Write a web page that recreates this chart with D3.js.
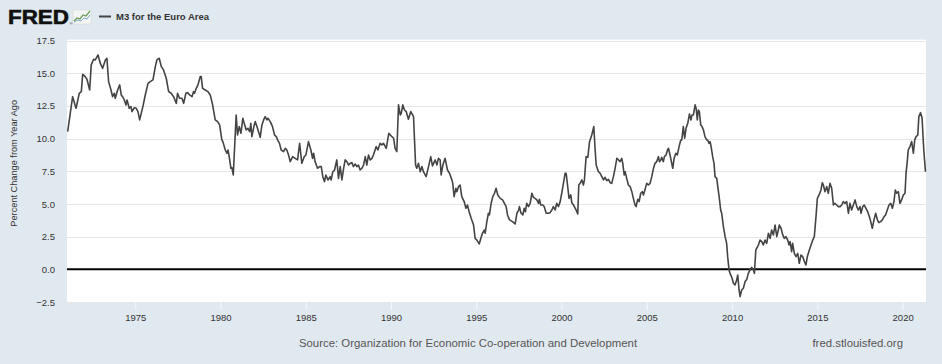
<!DOCTYPE html>
<html><head><meta charset="utf-8">
<script src="https://cdn.jsdelivr.net/npm/d3@7"></script>
<style>
html,body{margin:0;padding:0;background:#e1e9f0;}
svg{display:block;font-family:"Liberation Sans",Arial,sans-serif;}
</style></head><body>
<svg id="chart" width="942" height="364"></svg>
<script>
// ---- data (decimal year, percent change from year ago) ----
const years = [
1971.04,1971.33,1971.53,1971.72,1971.84,1971.92,1972.07,1972.17,1972.33,1972.42,1972.56,1972.66,1972.82,1972.95,
1973.09,1973.25,1973.34,1973.44,1973.58,1973.67,1973.77,1973.83,1973.97,1974.09,1974.18,1974.26,1974.36,1974.46,
1974.52,1974.65,1974.75,1974.81,1974.95,1975.06,1975.16,1975.26,1975.45,1975.59,1975.75,1975.88,1976.04,1976.18,
1976.27,1976.41,1976.53,1976.66,1976.82,1976.96,1977.11,1977.25,1977.41,1977.48,1977.60,1977.74,1977.84,1977.97,
1978.07,1978.19,1978.33,1978.42,1978.48,1978.58,1978.68,1978.81,1978.87,1978.95,1979.11,1979.26,1979.40,1979.54,
1979.69,1979.83,1979.95,1980.08,1980.14,1980.28,1980.38,1980.44,1980.51,1980.61,1980.67,1980.75,1980.92,1981.00,
1981.10,1981.20,1981.31,1981.39,1981.51,1981.61,1981.71,1981.78,1981.84,1981.98,1982.04,1982.17,1982.33,1982.43,
1982.53,1982.62,1982.72,1982.78,1982.92,1983.05,1983.17,1983.27,1983.35,1983.46,1983.56,1983.70,1983.80,1983.89,
1983.99,1984.09,1984.23,1984.38,1984.52,1984.64,1984.77,1984.91,1985.01,1985.16,1985.30,1985.40,1985.46,1985.55,
1985.69,1985.81,1985.91,1986.00,1986.10,1986.18,1986.30,1986.43,1986.49,1986.59,1986.69,1986.82,1986.92,1987.02,
1987.12,1987.22,1987.31,1987.41,1987.51,1987.61,1987.70,1987.80,1987.90,1988.00,1988.09,1988.19,1988.29,1988.39,
1988.49,1988.58,1988.68,1988.78,1988.88,1988.97,1989.13,1989.23,1989.36,1989.46,1989.56,1989.72,1989.87,1990.05,
1990.15,1990.24,1990.34,1990.44,1990.54,1990.60,1990.69,1990.79,1990.89,1991.02,1991.16,1991.32,1991.44,1991.51,
1991.61,1991.71,1991.81,1991.90,1992.06,1992.20,1992.33,1992.43,1992.59,1992.69,1992.78,1992.88,1992.94,1993.04,
1993.17,1993.31,1993.43,1993.57,1993.62,1993.70,1993.80,1993.86,1993.96,1994.05,1994.15,1994.29,1994.39,1994.48,
1994.58,1994.70,1994.84,1994.93,1995.03,1995.09,1995.17,1995.27,1995.36,1995.48,1995.52,1995.62,1995.71,1995.77,
1995.87,1995.97,1996.07,1996.16,1996.26,1996.40,1996.54,1996.65,1996.75,1996.83,1996.95,1997.12,1997.28,1997.38,
1997.47,1997.53,1997.61,1997.73,1997.81,1997.88,1997.96,1998.06,1998.16,1998.26,1998.35,1998.45,1998.55,1998.65,
1998.70,1998.78,1998.90,1998.98,1999.10,1999.23,1999.33,1999.43,1999.52,1999.62,1999.72,1999.82,1999.92,2000.01,
2000.11,2000.21,2000.27,2000.36,2000.44,2000.54,2000.60,2000.70,2000.85,2000.95,2001.01,2001.09,2001.19,2001.28,
2001.34,2001.44,2001.54,2001.64,2001.77,2001.89,2001.97,2002.03,2002.16,2002.26,2002.36,2002.46,2002.55,2002.65,
2002.75,2002.85,2002.94,2003.04,2003.14,2003.24,2003.34,2003.43,2003.53,2003.59,2003.67,2003.73,2003.82,2003.92,
2004.02,2004.12,2004.21,2004.31,2004.37,2004.47,2004.55,2004.64,2004.74,2004.80,2004.90,2004.99,2005.09,2005.19,
2005.29,2005.39,2005.48,2005.58,2005.68,2005.74,2005.82,2005.87,2005.97,2006.03,2006.13,2006.21,2006.27,2006.36,
2006.46,2006.52,2006.60,2006.70,2006.79,2006.89,2006.99,2007.05,2007.14,2007.22,2007.30,2007.40,2007.50,2007.59,
2007.65,2007.73,2007.83,2007.89,2007.96,2008.02,2008.08,2008.16,2008.24,2008.32,2008.41,2008.51,2008.57,2008.65,
2008.71,2008.77,2008.86,2008.94,2009.00,2009.10,2009.16,2009.24,2009.33,2009.39,2009.49,2009.59,2009.68,2009.74,
2009.82,2009.88,2009.98,2010.08,2010.17,2010.27,2010.33,2010.41,2010.47,2010.56,2010.66,2010.76,2010.86,2010.95,
2011.05,2011.15,2011.25,2011.31,2011.39,2011.44,2011.54,2011.64,2011.74,2011.83,2011.93,2012.03,2012.13,2012.23,
2012.32,2012.42,2012.52,2012.62,2012.71,2012.77,2012.87,2012.97,2013.06,2013.16,2013.26,2013.34,2013.40,2013.49,
2013.55,2013.65,2013.75,2013.85,2013.94,2014.04,2014.14,2014.24,2014.33,2014.41,2014.53,2014.63,2014.73,2014.82,
2014.92,2015.00,2015.10,2015.21,2015.29,2015.35,2015.45,2015.55,2015.64,2015.74,2015.84,2015.94,2016.03,2016.13,
2016.23,2016.33,2016.43,2016.52,2016.62,2016.72,2016.82,2016.91,2017.01,2017.11,2017.21,2017.31,2017.40,2017.50,
2017.56,2017.66,2017.75,2017.85,2017.95,2018.05,2018.13,2018.22,2018.32,2018.42,2018.52,2018.61,2018.71,2018.81,
2018.91,2019.00,2019.10,2019.20,2019.30,2019.40,2019.49,2019.57,2019.65,2019.75,2019.84,2019.94,2020.04,2020.14,
2020.20,2020.27,2020.33,2020.43,2020.53,2020.63,2020.71,2020.79,2020.89,2020.95,2021.05,2021.14,2021.24,2021.34
];
const values = [
10.54,13.21,12.32,13.47,13.60,14.92,14.74,14.54,13.72,15.64,16.07,16.02,16.40,15.77,
15.38,16.02,16.15,14.36,13.72,13.21,13.47,13.09,13.72,14.11,13.34,13.21,12.96,12.58,
12.96,12.32,12.45,12.07,12.37,12.32,12.07,11.43,12.45,13.34,14.23,14.36,14.49,15.51,
16.02,16.15,15.51,15.26,14.62,13.60,13.47,13.21,12.70,13.47,13.09,13.09,12.70,13.47,
13.52,13.34,13.21,13.60,13.47,13.85,14.11,14.74,14.74,13.85,13.72,13.60,13.34,12.58,
11.43,11.30,11.05,9.90,9.77,9.13,8.88,9.13,8.62,7.73,7.78,7.22,11.81,10.28,
10.92,10.41,11.56,11.17,10.66,10.79,10.54,11.17,10.15,11.05,11.30,10.79,10.10,11.05,
11.43,11.68,11.43,11.56,11.30,10.92,10.28,10.15,9.90,9.64,9.13,9.01,9.26,9.13,
8.75,8.24,8.62,8.49,8.37,9.64,8.11,8.62,8.75,9.77,9.13,8.49,8.88,8.24,
7.73,7.86,7.86,7.09,6.71,7.22,6.84,7.09,6.84,7.47,7.60,8.37,6.96,7.86,
6.84,7.73,8.37,8.24,7.98,8.11,8.16,7.86,8.06,7.86,7.98,7.60,7.73,7.98,
8.62,7.98,8.75,8.37,8.49,8.75,9.39,9.13,9.64,9.52,9.64,9.26,10.41,10.15,
10.03,9.26,9.01,12.58,11.81,11.94,12.58,12.19,12.07,11.48,12.07,11.68,7.98,7.73,
8.11,7.47,7.86,7.47,7.09,7.86,8.62,7.91,8.37,7.98,8.49,8.37,7.22,7.98,
8.49,7.60,7.35,6.84,6.58,5.56,6.20,5.94,6.33,6.45,5.56,5.18,4.67,4.92,
4.41,3.90,3.39,2.37,2.24,2.12,1.94,2.37,2.76,3.01,2.76,3.65,4.29,4.16,
5.05,5.56,5.82,6.20,5.69,5.43,5.31,5.05,4.80,4.16,3.78,3.65,3.47,4.29,
4.49,4.80,4.34,4.16,4.67,4.41,5.05,4.80,5.05,5.82,5.51,5.43,5.31,5.05,
5.36,4.92,4.92,4.80,4.29,4.29,4.34,4.54,4.80,4.54,5.05,4.80,5.18,5.82,
6.58,7.35,7.35,6.33,5.43,5.69,5.10,4.92,4.54,4.23,6.45,6.58,6.84,6.45,
6.84,8.62,8.57,9.77,10.28,10.92,9.13,7.98,7.47,7.35,7.09,6.84,7.04,6.79,
6.89,6.63,6.58,7.09,7.73,8.49,8.37,8.24,8.49,8.11,7.22,7.47,6.96,6.45,
6.33,5.94,5.43,4.92,4.80,5.36,5.18,5.82,5.94,5.69,6.12,6.58,6.45,6.58,
7.09,7.73,8.11,8.24,8.62,8.24,8.37,8.57,8.24,8.62,8.75,9.13,9.26,8.75,
8.11,7.73,8.49,8.88,8.75,9.39,9.90,9.90,10.92,10.03,10.79,11.17,11.89,11.43,
11.81,11.81,12.58,12.32,11.43,12.19,12.07,11.05,10.92,10.66,10.15,9.90,9.90,9.64,
9.77,9.39,8.62,8.11,7.09,6.96,6.33,5.56,4.54,4.29,3.27,2.50,1.99,0.97,
-0.05,-0.31,-0.61,-1.07,-1.20,-0.82,-0.43,-1.58,-2.09,-1.58,-1.45,-0.94,-0.77,-0.31,
-0.05,0.15,-0.05,-0.31,1.48,1.61,1.86,2.24,2.12,1.86,2.24,1.99,2.76,2.37,
3.01,2.63,3.39,2.50,3.01,3.39,3.14,2.63,2.37,2.50,2.24,1.86,2.12,1.35,
1.99,1.22,0.97,1.22,0.46,1.10,0.97,0.59,0.33,0.97,1.48,1.86,2.24,2.50,
4.03,5.43,5.69,6.07,6.63,6.45,5.94,6.33,5.82,6.58,6.20,4.92,5.05,4.92,
4.80,4.80,4.92,5.18,5.05,5.18,4.29,5.05,4.54,4.92,5.31,4.80,4.54,4.80,
4.29,4.80,4.92,4.67,4.41,4.03,3.65,3.14,3.78,4.29,3.78,3.57,3.65,3.78,
4.03,4.16,4.54,4.92,5.05,4.67,5.18,6.07,5.82,5.94,5.05,5.31,5.69,5.82,
7.35,8.24,9.13,9.39,9.77,8.88,9.90,10.15,10.28,11.68,11.99,11.56,9.13,7.47
];
const xTicks = [1975,1980,1985,1990,1995,2000,2005,2010,2015,2020];
const yTicks = [-2.5,0,2.5,5,7.5,10,12.5,15,17.5];
const seriesName = "M3 for the Euro Area";
const yTitle = "Percent Change from Year Ago";
const sourceText = "Source: Organization for Economic Co-operation and Development";
const siteText = "fred.stlouisfed.org";

// ---- layout ----
const W = 942, H = 364;
const plot = {left: 67, right: 926, top: 40.6, bottom: 302};
const svg = d3.select("#chart");
svg.append("rect").attr("width", W).attr("height", H).attr("fill", "#e1e9f0");

const data = years.map((t, i) => ({t, v: values[i]}));
const x = d3.scaleLinear().domain([1971, 2021.37]).range([plot.left, plot.right]);
const y = d3.scaleLinear().domain([-2.5, 17.5]).range([plot.bottom, plot.top]);

// plot background
svg.append("rect").attr("x", plot.left).attr("y", plot.top - 1)
  .attr("width", plot.right - plot.left).attr("height", plot.bottom - plot.top + 1)
  .attr("fill", "#ffffff");

// gridlines
svg.append("g").selectAll("line").data(yTicks.filter(d => d !== 0)).join("line")
  .attr("x1", plot.left).attr("x2", plot.right)
  .attr("y1", d => Math.round(y(d)) + 0.5).attr("y2", d => Math.round(y(d)) + 0.5)
  .attr("stroke", "#e6e6e6").attr("stroke-width", 1);

// x axis
const xAxis = svg.append("g").attr("transform", `translate(0,${plot.bottom})`)
  .call(d3.axisBottom(x).tickValues(xTicks).tickFormat(d3.format("d")).tickSize(8).tickPadding(4));
xAxis.select(".domain").remove();
xAxis.selectAll(".tick line").attr("stroke", "#f4f7fa").attr("stroke-width", 1);
xAxis.selectAll(".tick text").attr("fill", "#333").attr("font-size", "9.5px")
  .attr("font-family", "'Liberation Sans', Arial, sans-serif");

// y axis
const yAxis = svg.append("g").attr("transform", `translate(${plot.left},0)`)
  .call(d3.axisLeft(y).tickValues(yTicks).tickFormat(d3.format(".1f")).tickSize(0).tickPadding(12));
yAxis.select(".domain").remove();
yAxis.selectAll(".tick text").attr("fill", "#333").attr("font-size", "9.5px")
  .attr("font-family", "'Liberation Sans', Arial, sans-serif");

// zero line
svg.append("line").attr("x1", plot.left).attr("x2", plot.right)
  .attr("y1", y(0)).attr("y2", y(0)).attr("stroke", "#000").attr("stroke-width", 2);

// series line
svg.append("path").datum(data)
  .attr("fill", "none").attr("stroke", "#444").attr("stroke-width", 1.6)
  .attr("stroke-linejoin", "round")
  .attr("d", d3.line().x(d => x(d.t)).y(d => y(d.v)));

// y title
svg.append("text").attr("transform", `translate(17,${(plot.top + plot.bottom) / 2 - 8}) rotate(-90)`)
  .attr("text-anchor", "middle").attr("font-size", "9.2px").attr("fill", "#333")
  .text(yTitle);

// header: FRED logo
svg.append("text").attr("x", 8).attr("y", 24).attr("font-size", "20px").attr("font-weight", "bold")
  .attr("fill", "#111").attr("stroke", "#111").attr("stroke-width", 0.6)
  .attr("textLength", 61).attr("lengthAdjust", "spacingAndGlyphs").text("FRED");
const icon = svg.append("g");
icon.append("rect").attr("x", 73).attr("y", 10).attr("width", 18).attr("height", 14)
  .attr("fill", "#f2f5f3").attr("stroke", "#cfd8d0").attr("stroke-width", 0.5);
icon.append("path").attr("d", "M74,21 L77,18 L80,19 L83,15 L86,16 L90,11")
  .attr("fill", "none").attr("stroke", "#6a9f5a").attr("stroke-width", 1.3);
icon.append("path").attr("d", "M74,22 L78,20 L81,21 L84,18 L87,19 L90,15")
  .attr("fill", "none").attr("stroke", "#7fa7c9").attr("stroke-width", 1);
svg.append("text").attr("x", 69.5).attr("y", 24.5).attr("font-size", "4px").attr("fill", "#333").text("®");

// legend
svg.append("line").attr("x1", 99).attr("x2", 111).attr("y1", 16.5).attr("y2", 16.5)
  .attr("stroke", "#444").attr("stroke-width", 2);
svg.append("text").attr("x", 116).attr("y", 19.5).attr("font-size", "9.5px").attr("font-weight", "bold")
  .attr("fill", "#333").text(seriesName);

// footer
svg.append("text").attr("x", 468).attr("y", 347).attr("text-anchor", "middle")
  .attr("font-size", "11.4px").attr("fill", "#555").text(sourceText);
svg.append("text").attr("x", 903).attr("y", 347).attr("text-anchor", "end")
  .attr("font-size", "11.4px").attr("fill", "#555").text(siteText);
</script>
</body></html>
